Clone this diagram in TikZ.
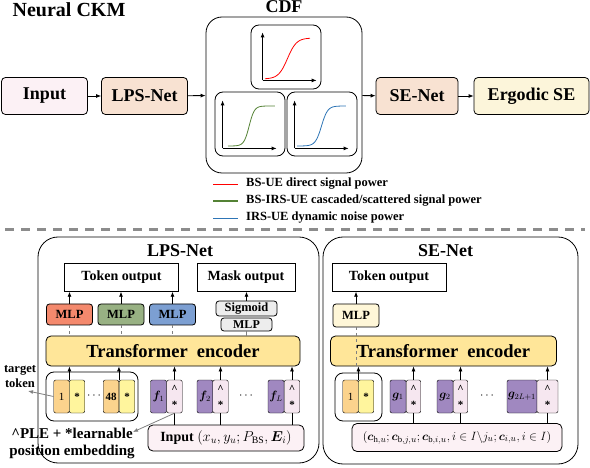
\documentclass[tikz,border=0pt]{standalone}
\usepackage{amsmath}
\usepackage{amssymb}
\usepackage{bm}
\usepackage{fontspec}
\setmainfont{Liberation Serif}
\usepackage{tikz}
\usetikzlibrary{arrows.meta,calc,positioning}

\definecolor{inpink}{HTML}{FCF1F5}
\definecolor{peach}{HTML}{F8E2D2}
\definecolor{cream}{HTML}{FCF5DA}
\definecolor{encgold}{HTML}{FFE699}
\definecolor{mlpred}{HTML}{F4896D}
\definecolor{mlpgreen}{HTML}{98B183}
\definecolor{mlpblue}{HTML}{7C9FD2}
\definecolor{mlpcream}{HTML}{FFF7D8}
\definecolor{sgray}{HTML}{EDEDED}
\definecolor{tokorange}{HTML}{FBD38D}
\definecolor{tokyellow}{HTML}{FFF59D}
\definecolor{featpurple}{HTML}{A088C0}
\definecolor{hatpink}{HTML}{F6E7F0}
\definecolor{lgreen}{HTML}{548235}
\definecolor{lblue}{HTML}{2E75B6}

\begin{document}
\begin{tikzpicture}[x=1pt,y=-1pt,
		box/.style={draw, thick, rounded corners=4pt, inner sep=0pt, minimum height=37pt, font=\fontsize{18}{20}\selectfont\bfseries},
		panel/.style={draw, thick, rounded corners=20pt, inner sep=0pt},
		plotbox/.style={draw, thick, rounded corners=8pt, inner sep=0pt, minimum width=70pt, minimum height=64pt},
		outbox/.style={draw, inner sep=0pt, minimum height=28pt, font=\fontsize{14}{16}\selectfont\bfseries},
		mlp/.style={draw, thick, rounded corners=3pt, inner sep=0pt, minimum width=46pt, minimum height=21pt, font=\fontsize{12.5}{14}\selectfont\bfseries},
		enc/.style={draw, thick, fill=encgold, rounded corners=5pt, inner sep=0pt, minimum height=30pt, font=\fontsize{18.5}{20}\selectfont\bfseries},
		tok/.style={draw, rounded corners=2pt, inner sep=0pt, minimum width=15.5pt, minimum height=33pt, font=\fontsize{11}{12}\selectfont\bfseries},
		feat/.style={tok, fill=featpurple, minimum width=16pt, font=\fontsize{12}{13}\selectfont},
		hat/.style={tok, fill=hatpink, align=center, font=\fontsize{11}{12}\selectfont\bfseries},
		title/.style={inner sep=0pt, font=\fontsize{18}{20}\selectfont\bfseries},
		arr/.style={-{Latex[length=5pt,width=4pt]}, thick},
		garr/.style={-{Latex[length=5pt,width=4pt]}, gray, thick},
		lbl/.style={anchor=west, inner sep=0pt, font=\fontsize{12.5}{13}\selectfont\bfseries}]
	\useasboundingbox (0,0) rectangle (590,468);

	\node[inner sep=0pt, font=\fontsize{20}{22}\selectfont\bfseries] (ckm) at (69,10) {Neural CKM};
	\node[box, fill=inpink, minimum width=86pt] (inp) at (44.5,96) {Input};
	\node[box, fill=peach, minimum width=86pt] (lps) at (144.5,96) {LPS-Net};
	\node[panel, rounded corners=16pt, minimum width=156pt, minimum height=156pt] (cdf) at (284,95) {};
	\node[title] (cdft) at (284,7) {CDF};
	\node[box, fill=peach, minimum width=82pt] (sen) at (417,96) {SE-Net};
	\node[box, fill=cream, minimum width=115pt] (erg) at (531.5,96) {Ergodic SE};
	\draw[arr] (inp) -- (lps);
	\draw[arr] (lps) -- (cdf);
	\draw[arr] (cdf) -- (sen);
	\draw[arr] (sen) -- (erg);

	\node[plotbox] (cdfa) at (286,57) {};
	\node[plotbox] (cdfb) at (250,124) {};
	\node[plotbox] (cdfc) at (322,124) {};
	\coordinate (oa) at ($(cdfa.south west)+(12,-9)$);
	\coordinate (ob) at ($(cdfb.south west)+(8,-8)$);
	\coordinate (oc) at ($(cdfc.south west)+(8,-8)$);
	\foreach \o in {oa,ob,oc} {
		\draw[arr] (\o) -- +(0,-48);
		\draw[arr] (\o) -- +(54,0);
	}
	\draw[red, thick] plot[domain=0:1, samples=40, variable=\t] ({265+45*\t}, {79-41/(1+exp(-10*(\t-0.5)))});
	\draw[lgreen, thick] plot[domain=0:1, samples=50, variable=\t] ({228+47*\t}, {146-40/(1+exp(-18*(\t-0.45)))});
	\draw[lblue, thick] plot[domain=0:1, samples=50, variable=\t] ({297+49*\t}, {146-40/(1+exp(-16*(\t-0.5)))});

	\draw[red] (213,184) -- (238,184);
	\draw[lgreen, line width=2.5pt] (213,201) -- (238,201);
	\draw[lblue] (213,218) -- (238,218);
	\node[lbl] (lga) at (246,184) {BS-UE direct signal power};
	\node[lbl] (lgb) at (246,201) {BS-IRS-UE cascaded/scattered signal power};
	\node[lbl] (lgc) at (246,218) {IRS-UE dynamic noise power};
	\draw[gray!90, line width=3pt, dash pattern=on 9pt off 7pt] (5,230) -- (585,230);

	\node[panel, minimum width=281pt, minimum height=226pt] (lpsbox) at (178.5,350) {};
	\node[title] (lpst) at (180,251) {LPS-Net};
	\node[outbox, minimum width=114pt] (tokout) at (121.5,277.5) {Token output};
	\node[outbox, minimum width=98pt] (maskout) at (246,277.5) {Mask output};
	\node[mlp, fill=mlpred] (mlpa) at (69.5,314.5) {MLP};
	\node[mlp, fill=mlpgreen] (mlpb) at (121,314.5) {MLP};
	\node[mlp, fill=mlpblue] (mlpc) at (172.5,314.5) {MLP};
	\node[mlp, fill=sgray, minimum width=61pt, minimum height=15pt] (sigm) at (246.5,308.5) {Sigmoid};
	\node[mlp, fill=sgray, minimum width=51pt, minimum height=13pt, font=\fontsize{12}{13}\selectfont\bfseries] (mlpd) at (246.5,324.5) {MLP};
	\node[enc, minimum width=254pt] (enca) at (173,351) {Transformer~ encoder};
	\foreach \m in {mlpa,mlpb,mlpc} {
		\draw[arr] (\m) -- (\m.north |- tokout.south);
		\draw[gray, dashed, thin] (\m.south) -- (\m.south |- enca.north);
	}
	\draw[arr] (sigm) -- (sigm.north |- maskout.south);
	\draw[gray, thin] (mlpd.south) -- (mlpd.south |- enca.north);

	\node[draw, thick, rounded corners=8pt, minimum width=92pt, minimum height=49pt] (grp) at (92,396.5) {};
	\node[tok, fill=tokorange] (tka1) at (61.5,396.5) {\mdseries 1};
	\node[tok, fill=tokyellow] (tka2) at (77,396.5) {*};
	\node[inner sep=0pt, font=\fontsize{12}{13}\selectfont\bfseries] (dta) at (95,396) {$\cdots$};
	\node[tok, fill=tokorange] (tka3) at (111,396.5) {48};
	\node[tok, fill=tokyellow] (tka4) at (127,396.5) {*};
	\node[feat] (fa) at (158.5,396.5) {$\bm{f}_1$};
	\node[hat] (ha) at (174.5,396.5) {\textasciicircum\\[4pt]*};
	\node[feat] (fb) at (205,396.5) {$\bm{f}_2$};
	\node[hat] (hb) at (220.5,396.5) {\textasciicircum\\[4pt]*};
	\node[inner sep=0pt, font=\fontsize{12}{13}\selectfont] (dtb) at (247,396) {$\cdots$};
	\node[feat] (fc) at (276,396.5) {$\bm{f}_L$};
	\node[hat] (hc) at (292,396.5) {\textasciicircum\\[4pt]*};
	\node[draw, thick, fill=inpink, rounded corners=5pt, inner sep=0pt, minimum width=156pt, minimum height=26pt, font=\fontsize{14}{16}\selectfont\bfseries] (lpsin) at (226,438) {Input $(x_u, y_u; P_{\mathrm{BS}}, \bm{E}_i)$};
	\draw[arr] (tka1.north east) -- (tka1.north east |- enca.south);
	\draw[arr] (tka3.north east) -- (tka3.north east |- enca.south);
	\foreach \h in {ha,hb,hc} {
		\draw[arr] (\h) -- (\h.north |- enca.south);
		\draw[thick] (\h.south) -- (\h.south |- lpsin.north);
	}

	\node[align=center, inner sep=0pt, font=\fontsize{12.5}{15}\selectfont\bfseries] (tgt) at (20,377) {target\\token};
	\coordinate (tgtend) at (28,391);
	\draw[garr] (tka1.west) -- (tgtend);
	\node[align=center, inner sep=0pt, font=\fontsize{15}{17}\selectfont\bfseries] (ple) at (72,443) {\textasciicircum PLE + *learnable\\position embedding};
	\coordinate (pleend) at (133,432);
	\draw[garr] (ha.south) -- (pleend);

	\node[panel, minimum width=255pt, minimum height=227pt] (sebox) at (450.5,350.5) {};
	\node[title] (set) at (445.5,251) {SE-Net};
	\node[outbox, minimum width=114pt] (tokout2) at (389,277.5) {Token output};
	\node[mlp, fill=mlpcream, minimum height=23pt] (mlpe) at (356,315.5) {MLP};
	\node[enc, minimum width=226pt] (encb) at (443.5,351) {Transformer~ encoder};
	\draw[arr] (mlpe) -- (mlpe.north |- tokout2.south);
	\node[draw, thick, rounded corners=8pt, minimum width=47pt, minimum height=48pt] (grp2) at (358.5,397) {};
	\node[tok, fill=tokorange] (tkb1) at (350.5,396.5) {\mdseries 1};
	\node[tok, fill=tokyellow] (tkb2) at (366,396.5) {*};
	\node[feat] (ga) at (398,396.5) {$\bm{g}_1$};
	\node[hat, minimum width=14.5pt] (hga) at (413.5,396.5) {\textasciicircum\\[4pt]*};
	\node[feat] (gb) at (445,396.5) {$\bm{g}_2$};
	\node[hat, minimum width=14.5pt] (hgb) at (460.5,396.5) {\textasciicircum\\[4pt]*};
	\node[inner sep=0pt, font=\fontsize{12}{13}\selectfont] (dtc) at (488,396) {$\cdots$};
	\node[feat, minimum width=30pt] (gc) at (522,396.5) {$\bm{g}_{2L+1}$};
	\node[hat, minimum width=21pt] (hgc) at (547.5,396.5) {\textasciicircum\\[4pt]*};
	\node[draw, thick, fill=inpink, rounded corners=5pt, inner sep=0pt, minimum width=210pt, minimum height=28pt, font=\fontsize{12.5}{14}\selectfont] (sein) at (457,437.5) {$(\bm{c}_{\mathrm{h},u}; \bm{c}_{\mathrm{b},j,u}; \bm{c}_{\mathrm{b},i,u}, i \in I\backslash j_u; \bm{c}_{i,u}, i \in I)$};
	\draw[gray, dashed, thin] (mlpe.south) -- (mlpe.south |- encb.south);
	\draw[arr] (tkb1.north east) -- (tkb1.north east |- encb.south);
	\foreach \h in {hga,hgb,hgc} {
		\draw[arr] (\h) -- (\h.north |- encb.south);
		\draw[thick] (\h.south) -- (\h.south |- sein.north);
	}
\end{tikzpicture}
\end{document}
